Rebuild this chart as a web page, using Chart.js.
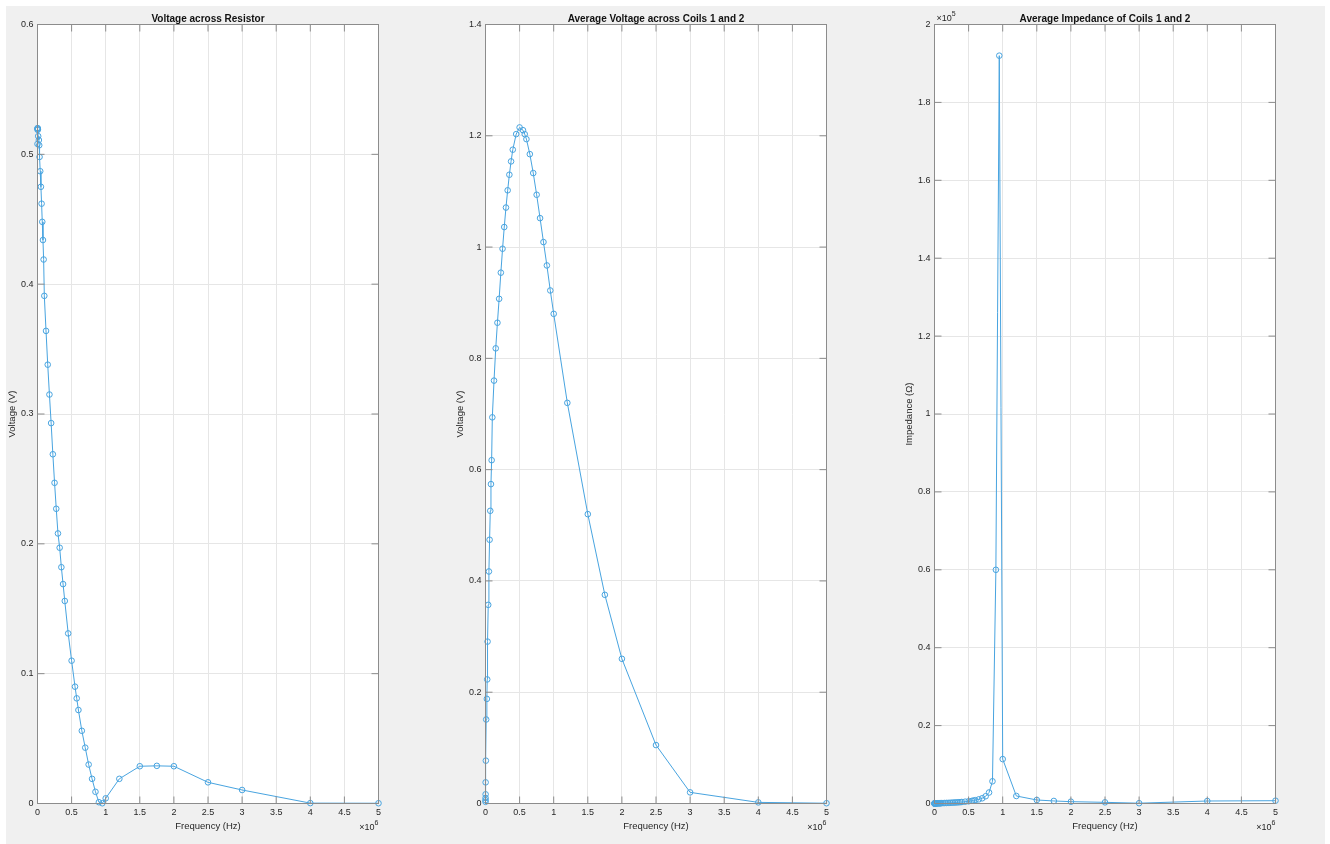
<!DOCTYPE html>
<html>
<head>
<meta charset="utf-8">
<script src="https://cdn.jsdelivr.net/npm/chart.js@4.4.1/dist/chart.umd.min.js"></script>
<style>
html,body{margin:0;padding:0;background:#ffffff;width:1330px;height:844px;overflow:hidden;}
#fig{position:absolute;left:6px;top:6px;width:1319px;height:838px;background:#f0f0f0;}
canvas{position:absolute;top:0;}
</style>
</head>
<body>
<div id="fig"></div>
<canvas id="c1" width="420" height="844" style="left:-3px"></canvas>
<canvas id="c2" width="420" height="844" style="left:445px"></canvas>
<canvas id="c3" width="420" height="844" style="left:894px"></canvas>
<script>
// ---- data (frequency in Hz) ----
const frequency = [100, 500, 1000, 1500, 2000, 5000, 10000, 20000, 25000, 30000,
  40000, 50000, 60000, 70000, 80000, 90000, 100000, 125000, 150000, 175000,
  200000, 225000, 250000, 275000, 300000, 325000, 350000, 375000, 400000, 450000,
  500000, 550000, 575000, 600000, 650000, 700000, 750000, 800000, 850000, 900000,
  950000, 1000000, 1200000, 1500000, 1750000, 2000000, 2500000, 3000000, 4000000, 5000000];

const resistorVoltage = [0.508, 0.519, 0.520, 0.520, 0.520, 0.519, 0.514, 0.511, 0.507, 0.498,
  0.487, 0.475, 0.462, 0.448, 0.434, 0.419, 0.391, 0.364, 0.338, 0.315,
  0.293, 0.269, 0.247, 0.227, 0.208, 0.197, 0.182, 0.169, 0.156, 0.131,
  0.110, 0.090, 0.081, 0.072, 0.056, 0.043, 0.030, 0.019, 0.009, 0.001,
  0.0002, 0.004, 0.019, 0.0287, 0.029, 0.0287, 0.0163, 0.0104, 0.0003, 0.0002];

const coilVoltage = [0.003, 0.006, 0.010, 0.0165, 0.038, 0.077, 0.151, 0.188, 0.223, 0.291,
  0.357, 0.417, 0.474, 0.526, 0.574, 0.617, 0.694, 0.760, 0.818, 0.864,
  0.907, 0.954, 0.997, 1.036, 1.071, 1.102, 1.130, 1.154, 1.175, 1.203,
  1.215, 1.210, 1.203, 1.194, 1.167, 1.133, 1.094, 1.052, 1.009, 0.967,
  0.922, 0.880, 0.720, 0.520, 0.375, 0.260, 0.105, 0.020, 0.002, 0.0005];

const coilImpedance = [1, 2, 3, 4, 5, 8, 15, 19, 22, 30,
  37, 45, 52, 60, 67, 75, 90, 107, 126, 142,
  158, 172, 206, 224, 253, 277, 309, 342, 384, 468,
  563, 685, 757, 846, 1063, 1344, 1860, 2824, 5700, 60000,
  192000, 11400, 1930, 900, 650, 470, 300, 80, 640, 720];

const xTickValues = [0, 500000, 1000000, 1500000, 2000000, 2500000, 3000000, 3500000, 4000000, 4500000, 5000000];
const xTickLabels = ['0', '0.5', '1', '1.5', '2', '2.5', '3', '3.5', '4', '4.5', '5'];
const y1TickValues = [0, 0.1, 0.2, 0.3, 0.4, 0.5, 0.6];
const y1TickLabels = ['0', '0.1', '0.2', '0.3', '0.4', '0.5', '0.6'];
const y2TickValues = [0, 0.2, 0.4, 0.6, 0.8, 1.0, 1.2, 1.4];
const y2TickLabels = ['0', '0.2', '0.4', '0.6', '0.8', '1', '1.2', '1.4'];
const y3TickValues = [0, 20000, 40000, 60000, 80000, 100000, 120000, 140000, 160000, 180000, 200000];
const y3TickLabels = ['0', '0.2', '0.4', '0.6', '0.8', '1', '1.2', '1.4', '1.6', '1.8', '2'];

const titles = ['Voltage across Resistor', 'Average Voltage across Coils 1 and 2', 'Average Impedance of Coils 1 and 2'];
const yLabels = ['Voltage (V)', 'Voltage (V)', 'Impedance (\u03A9)'];
const xLabel = 'Frequency (Hz)';

// ---- styling ----
const FONT = '"Liberation Sans", Arial, Helvetica, sans-serif';
const LINE = 'rgb(72,164,224)';
const TXT = '#262626';

const matlabAxes = {
  id: 'matlabAxes',
  beforeDraw(chart) {
    const {ctx, chartArea: a} = chart;
    ctx.save();
    ctx.fillStyle = '#ffffff';
    ctx.fillRect(a.left, a.top, a.right - a.left, a.bottom - a.top);
    ctx.restore();
  },
  afterDraw(chart, args, opts) {
    const {ctx, chartArea: a, scales} = chart;
    ctx.save();
    ctx.strokeStyle = '#8c8c8c';
    ctx.lineWidth = 1;
    ctx.strokeRect(a.left, a.top, a.right - a.left, a.bottom - a.top);
    const L = 7;
    ctx.beginPath();
    scales.x.ticks.forEach(t => {
      const px = scales.x.getPixelForValue(t.value);
      ctx.moveTo(px, a.bottom); ctx.lineTo(px, a.bottom - L);
      ctx.moveTo(px, a.top); ctx.lineTo(px, a.top + L);
    });
    scales.y.ticks.forEach(t => {
      const py = scales.y.getPixelForValue(t.value);
      ctx.moveTo(a.left, py); ctx.lineTo(a.left + L, py);
      ctx.moveTo(a.right, py); ctx.lineTo(a.right - L, py);
    });
    ctx.stroke();
    // title
    ctx.fillStyle = '#111111';
    ctx.font = 'bold 10px ' + FONT;
    ctx.textAlign = 'center';
    ctx.textBaseline = 'alphabetic';
    ctx.fillText(opts.title, (a.left + a.right) / 2, 21.5);
    // x exponent
    ctx.fillStyle = TXT;
    ctx.textAlign = 'left';
    ctx.font = '9px ' + FONT;
    const base = '\u00D710';
    const wb = ctx.measureText(base).width;
    ctx.font = '7px ' + FONT;
    const wx = ctx.measureText(opts.xExp).width;
    const sx = a.right - wb - wx;
    ctx.font = '9px ' + FONT;
    ctx.fillText(base, sx, 830);
    ctx.font = '7px ' + FONT;
    ctx.fillText(opts.xExp, sx + wb, 825);
    if (opts.yExp) {
      ctx.font = '9px ' + FONT;
      ctx.fillText(base, a.left + 2, 20.5);
      ctx.font = '7px ' + FONT;
      ctx.fillText(opts.yExp, a.left + 2 + wb, 15.5);
    }
    ctx.restore();
  }
};

function makeChart(id, values, yTicks, yTickLabels, yMax, idx, yExp) {
  const pts = frequency.map((f, i) => ({x: f, y: values[i]}));
  return new Chart(document.getElementById(id), {
    type: 'scatter',
    data: {
      datasets: [{
        data: pts,
        showLine: true,
        borderColor: LINE,
        borderWidth: 1,
        pointRadius: 2.8,
        pointBorderWidth: 1,
        pointBorderColor: LINE,
        pointBackgroundColor: 'rgba(0,0,0,0)',
        tension: 0,
        clip: false
      }]
    },
    options: {
      responsive: false,
      animation: false,
      events: [],
      layout: {padding: {left: 0.5, right: 38.5, top: 24.5, bottom: 0}},
      plugins: {
        legend: {display: false},
        tooltip: {enabled: false},
        matlabAxes: {title: titles[idx], xExp: '6', yExp: yExp}
      },
      scales: {
        x: {
          type: 'linear', min: 0, max: 5000000,
          afterBuildTicks: s => { s.ticks = xTickValues.map(v => ({value: v})); },
          afterFit: s => { s.height = 40.5; },
          border: {display: false},
          grid: {color: '#e6e6e6', drawTicks: false},
          ticks: {
            padding: 4, color: TXT, maxRotation: 0, autoSkip: false,
            font: {family: FONT, size: 9},
            callback: (v, i) => xTickLabels[i]
          },
          title: {display: true, text: xLabel, color: TXT, font: {family: FONT, size: 9.5}, padding: {top: 0, bottom: 12.3}}
        },
        y: {
          type: 'linear', min: 0, max: yMax,
          afterBuildTicks: s => { s.ticks = yTicks.map(v => ({value: v})); },
          afterFit: s => { s.width = 40; },
          border: {display: false},
          grid: {color: '#e6e6e6', drawTicks: false},
          ticks: {
            padding: 4, color: TXT, autoSkip: false,
            font: {family: FONT, size: 9},
            callback: (v, i) => yTickLabels[i]
          },
          title: {display: true, text: yLabels[idx], color: TXT, font: {family: FONT, size: 9.5}, padding: {top: 9.5, bottom: 0}}
        }
      }
    },
    plugins: [matlabAxes]
  });
}

makeChart('c1', resistorVoltage, y1TickValues, y1TickLabels, 0.6, 0, null);
makeChart('c2', coilVoltage, y2TickValues, y2TickLabels, 1.4, 1, null);
makeChart('c3', coilImpedance, y3TickValues, y3TickLabels, 200000, 2, '5');
</script>
</body>
</html>
